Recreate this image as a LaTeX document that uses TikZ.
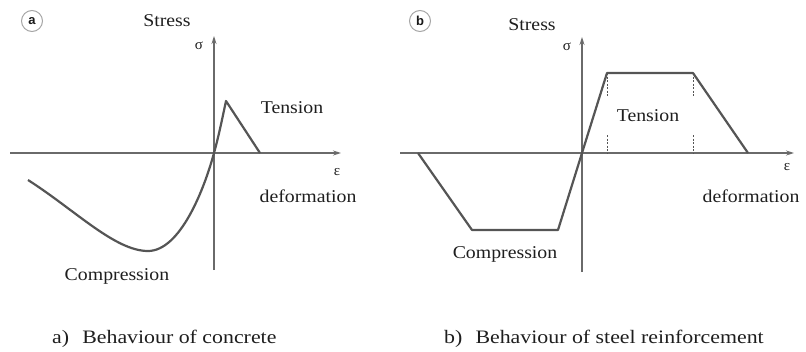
\documentclass[tikz,border=0pt]{standalone}
\usepackage{fontspec}
\setmainfont{Liberation Serif}
\newfontfamily\tagfont{Liberation Sans}
\usetikzlibrary{arrows.meta}
\definecolor{axisgray}{HTML}{6A6A6A}
\definecolor{curvegray}{HTML}{555555}
\definecolor{txt}{HTML}{1E1E1E}
\tikzset{
  axis/.style={draw=axisgray, line width=1.1pt, -{Stealth[length=8pt,width=5pt]}},
  curve/.style={draw=curvegray, line width=2.2pt, line join=round},
  guide/.style={draw=curvegray, line width=0.8pt, dash pattern=on 2pt off 1.5pt},
  lbl/.style={text=txt, font=\fontsize{18}{20}\selectfont, xscale=1.1, inner sep=0pt},
  sym/.style={text=txt, font=\fontsize{15}{17}\selectfont, inner sep=0pt},
  captext/.style={text=txt, font=\fontsize{19}{22}\selectfont, xscale=1.15, inner sep=0pt, anchor=base west},
  tag/.style={circle, draw=gray!70, line width=1pt, minimum size=21pt, inner sep=0pt,
              text=gray!20!black, font=\tagfont\bfseries\fontsize{13}{13}\selectfont},
}
\begin{document}
\begin{tikzpicture}[x=1pt, y=-1pt]
\useasboundingbox (0,0) rectangle (806,351);

% ---------- (a) concrete ----------
\node[tag] (taga) at (32,21) {a};
\node[lbl] (stressa) at (167,21) {Stress};
\node[sym] (sigmaa) at (199,46) {σ};
\coordinate (oa) at (214,153);
\coordinate (xa0) at (10,153);
\coordinate (xa1) at (341,153);
\coordinate (ya0) at (214,270);
\coordinate (ya1) at (214,36);
\draw[axis] (xa0) -- (xa1);
\draw[axis] (ya0) -- (ya1);
\node[sym] (epsa) at (337,172) {ε};
\node[lbl] (tensa) at (292,108) {Tension};
\node[lbl] (defa) at (308,196) {deformation};
\node[lbl] (compa) at (117,276) {Compression};
\coordinate (ca0) at (28,180);
\coordinate (camin) at (148,251);
\coordinate (capk) at (226,101);
\coordinate (caend) at (260,153);
\draw[curve] (ca0) .. controls (75,210) and (115,251) .. (camin)
  .. controls (180,251) and (204,190) .. (oa)
  .. controls (219,135) and (223,115) .. (capk) -- (caend);

% ---------- (b) steel reinforcement ----------
\node[tag] (tagb) at (420,21) {b};
\node[lbl] (stressb) at (532,25) {Stress};
\node[sym] (sigmab) at (567,47) {σ};
\coordinate (ob) at (582,153);
\coordinate (xb0) at (400,153);
\coordinate (xb1) at (794,153);
\coordinate (yb0) at (582,272);
\coordinate (yb1) at (582,37);
\draw[axis] (xb0) -- (xb1);
\draw[axis] (yb0) -- (yb1);
\node[sym] (epsb) at (787,167) {ε};
\node[lbl] (tensb) at (648,116) {Tension};
\node[lbl] (defb) at (751,196) {deformation};
\node[lbl] (compb) at (505,254) {Compression};
\coordinate (cb0) at (418,153);
\coordinate (cb1) at (472,230);
\coordinate (cb2) at (558,230);
\coordinate (cb3) at (607,73);
\coordinate (cb4) at (693,73);
\coordinate (cb5) at (748,153);
\draw[curve] (cb0) -- (cb1) -- (cb2) -- (ob) -- (cb3) -- (cb4) -- (cb5);
% yield marks
\coordinate (d1a) at (607,97);
\coordinate (d1b) at (607,135);
\coordinate (d1c) at (607,153);
\coordinate (d2a) at (693,97);
\coordinate (d2b) at (693,135);
\coordinate (d2c) at (693,153);
\draw[guide] (cb3) -- (d1a);
\draw[guide] (d1b) -- (d1c);
\draw[guide] (cb4) -- (d2a);
\draw[guide] (d2b) -- (d2c);

% ---------- captions ----------
\node[captext] (capa) at (52,343) {a)\hspace{0.6em}Behaviour of concrete};
\node[captext] (capb) at (444,343) {b)\hspace{0.6em}Behaviour of steel reinforcement};
\end{tikzpicture}
\end{document}
